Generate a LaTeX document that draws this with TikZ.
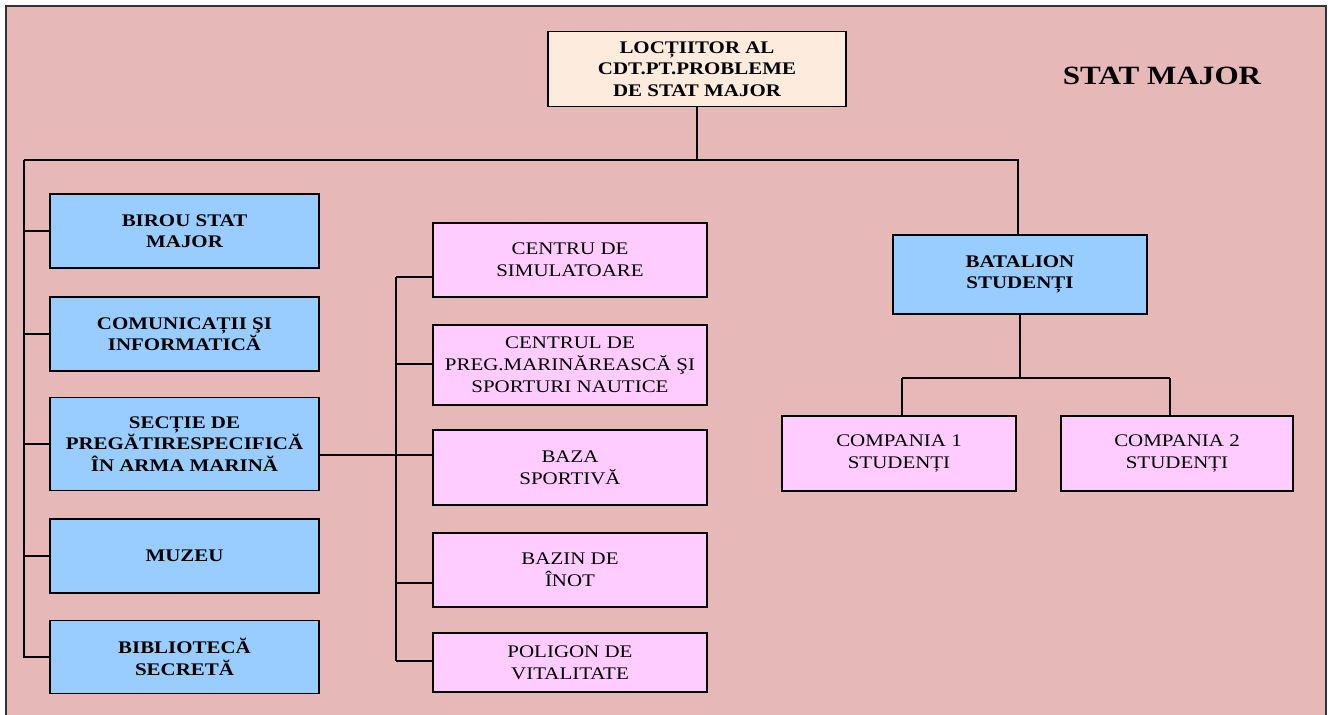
\documentclass[tikz,border=0pt]{standalone}
\usepackage{fontspec}
\setmainfont{Liberation Serif}[FakeStretch=1.18]
\definecolor{fondroz}{RGB}{230,184,183}
\definecolor{cutieal}{RGB}{153,204,255}
\definecolor{cutieroz}{RGB}{255,204,255}
\definecolor{cutiebej}{RGB}{253,235,222}
\tikzset{
	cadru/.style={draw=black!80, line width=1.2pt, fill=fondroz},
	sef/.style={draw, line width=0.9pt, fill=cutiebej, align=center, inner sep=2pt,
		font=\bfseries\fontsize{10.1}{12.2}\selectfont},
	birou/.style={draw, line width=0.9pt, fill=cutieal, align=center, inner sep=2pt,
		minimum width=5.38cm, font=\bfseries\fontsize{10.1}{12.2}\selectfont},
	centru/.style={draw, line width=0.9pt, fill=cutieroz, align=center, inner sep=2pt,
		font=\fontsize{10.1}{12.4}\selectfont},
	linie/.style={line width=0.9pt}
}
\begin{document}
\begin{tikzpicture}[x=0.02cm, y=-0.02cm]
	\useasboundingbox (0,0) rectangle (1329,715);
	\fill[white] (0,0) rectangle (1329,715);
	\draw[cadru] (6,6) rectangle (1326,740);

	\node at (1162,76) {\bfseries\fontsize{15}{16}\selectfont STAT MAJOR};

	\node[sef, minimum width=5.96cm, minimum height=1.5cm] (sef) at (697,69)
		{LOCȚIITOR AL\\CDT.PT.PROBLEME\\DE STAT MAJOR};

	% coloana din stanga
	\node[birou, minimum height=1.48cm] (birou) at (184.5,231) {BIROU STAT\\MAJOR};
	\node[birou, minimum height=1.48cm] (comunic) at (184.5,334) {COMUNICAȚII ŞI\\INFORMATICĂ};
	\node[birou, minimum height=1.86cm] (sectie) at (184.5,444) {SECȚIE DE\\PREGĂTIRESPECIFICĂ\\ÎN ARMA MARINĂ};
	\node[birou, minimum height=1.48cm] (muzeu) at (184.5,556) {MUZEU};
	\node[birou, minimum height=1.46cm] (biblio) at (184.5,657) {BIBLIOTECĂ\\SECRETĂ};

	% coloana din mijloc
	\node[centru, minimum width=5.48cm, minimum height=1.48cm] (simul) at (570,260) {CENTRU DE\\SIMULATOARE};
	\node[centru, minimum width=5.48cm, minimum height=1.6cm] (marin) at (570,365) {CENTRUL DE\\PREG.MARINĂREASCĂ ŞI\\SPORTURI NAUTICE};
	\node[centru, minimum width=5.48cm, minimum height=1.5cm] (baza) at (570,467.5) {BAZA\\SPORTIVĂ};
	\node[centru, minimum width=5.48cm, minimum height=1.48cm] (bazin) at (570,570) {BAZIN DE\\ÎNOT};
	\node[centru, minimum width=5.48cm, minimum height=1.18cm] (poligon) at (570,662.5) {POLIGON DE\\VITALITATE};

	% batalion
	\node[birou, minimum width=5.08cm, minimum height=1.58cm] (batalion) at (1020,274.5) {BATALION\\STUDENȚI};
	\node[centru, minimum width=4.68cm, minimum height=1.5cm] (comp1) at (899,453.5) {COMPANIA 1\\STUDENȚI};
	\node[centru, minimum width=4.64cm, minimum height=1.5cm] (comp2) at (1177,453.5) {COMPANIA 2\\STUDENȚI};

	\coordinate (st) at (24,160);
	\coordinate (dr) at (1018,160);
	\coordinate (m) at (396,277);
	\coordinate (c1) at (902,378);
	\coordinate (c2) at (1170,378);

	\draw[linie] (sef.south) -- (sef.south |- st);
	\draw[linie] (st) -- (dr) -- (dr |- batalion.north);
	\draw[linie] (st) |- (biblio.west);
	\foreach \n in {birou, comunic, sectie, muzeu}
	{
		\draw[linie] (st |- \n.west) -- (\n.west);
	};

	\draw[linie] (m) -- (396,661);
	\foreach \n / \y in {simul/277, marin/364, bazin/583, poligon/661}
	{
		\draw[linie] (396,\y) -- (\n.west |- 396,\y);
	};
	\draw[linie] (sectie.east |- 0,455) -- (baza.west |- 0,455);

	\draw[linie] (batalion.south) -- (batalion.south |- c1);
	\draw[linie] (c1) -- (c2);
	\draw[linie] (c1) -- (c1 |- comp1.north);
	\draw[linie] (c2) -- (c2 |- comp2.north);
\end{tikzpicture}
\end{document}
